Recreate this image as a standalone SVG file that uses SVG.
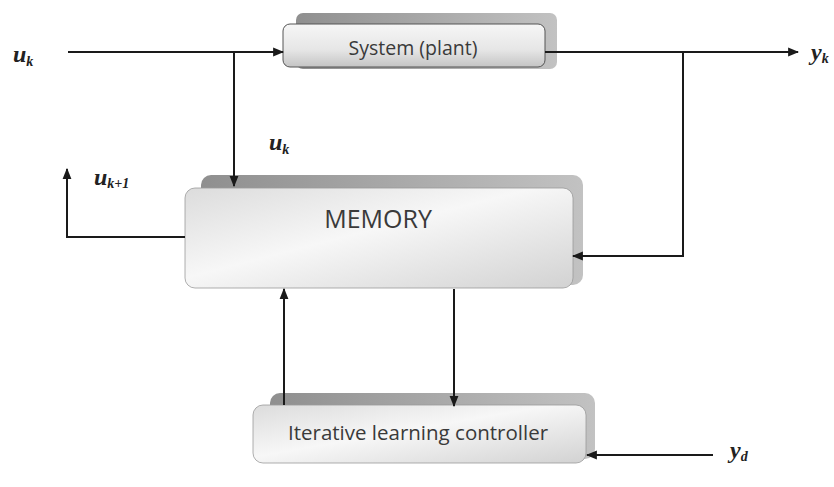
<svg xmlns="http://www.w3.org/2000/svg" width="834" height="487" viewBox="0 0 834 487">
  <defs>
    <linearGradient id="face" x1="0" y1="0" x2="1" y2="1">
      <stop offset="0" stop-color="#dcdcdc"/>
      <stop offset="0.45" stop-color="#f7f7f7"/>
      <stop offset="1" stop-color="#d2d2d2"/>
    </linearGradient>
    <linearGradient id="faceSys" x1="0" y1="0" x2="0" y2="1">
      <stop offset="0" stop-color="#f6f6f6"/>
      <stop offset="0.6" stop-color="#e6e6e6"/>
      <stop offset="1" stop-color="#c4c4c4"/>
    </linearGradient>
    <linearGradient id="back" x1="0" y1="0" x2="1" y2="0">
      <stop offset="0" stop-color="#8f8f8f"/>
      <stop offset="0.5" stop-color="#a8a8a8"/>
      <stop offset="1" stop-color="#c2c2c2"/>
    </linearGradient>
    <marker id="arrow" viewBox="0 0 10 10" refX="9" refY="5" markerWidth="11" markerHeight="11" markerUnits="userSpaceOnUse" orient="auto">
      <path d="M0,1 L10,5 L0,9 Z" fill="#1a1a1a"/>
    </marker>
  </defs>
  <style>
    .back { fill: url(#back); }
    .face { fill: url(#face); stroke: #9a9a9a; stroke-width: 0.8; }
    .box-label { font-family: "Open Sans", "Noto Sans", sans-serif; fill: #3a3a3a; text-anchor: middle; }
    .math { font-family: "Liberation Serif", "DejaVu Serif", serif; font-style: italic; font-weight: bold; fill: #222; font-size: 24px; }
    .sub { font-size: 14px; }
    .link { fill: none; stroke: #1a1a1a; stroke-width: 2; marker-end: url(#arrow); }
  </style>

  <rect width="834" height="487" fill="#ffffff"/>

  <!-- System block -->
  <g id="system">
    <rect class="back" x="296" y="13" width="261" height="56" rx="7"/>
    <rect x="283" y="24" width="262" height="43" rx="7" fill="url(#faceSys)" stroke="#555" stroke-width="1"/>
    <text class="box-label" x="413" y="55" font-size="19.5">System (plant)</text>
  </g>

  <!-- Memory block -->
  <g id="memory">
    <rect class="back" x="201" y="175" width="382" height="110" rx="10"/>
    <rect class="face" x="185" y="188" width="388" height="100" rx="10"/>
    <text class="box-label" x="378" y="228" font-size="25">MEMORY</text>
  </g>

  <!-- Learning controller block -->
  <g id="controller">
    <rect class="back" x="270" y="393" width="325" height="66" rx="10"/>
    <rect class="face" x="253" y="405" width="333" height="58" rx="10"/>
    <text class="box-label" x="418" y="440" font-size="20.5">Iterative learning controller</text>
  </g>

  <!-- Connectors -->
  <g id="connectors">
    <line class="link" x1="68" y1="52" x2="283" y2="52"/>
    <polyline class="link" points="234,52 234,186"/>
    <line class="link" x1="545" y1="52" x2="798" y2="52"/>
    <polyline class="link" points="683,52 683,256 573,256"/>
    <polyline class="link" points="185,237 67,237 67,169"/>
    <line class="link" x1="284" y1="405" x2="284" y2="289"/>
    <line class="link" x1="454" y1="289" x2="454" y2="406"/>
    <line class="link" x1="713" y1="455" x2="587" y2="455"/>
  </g>

  <!-- Signal labels -->
  <g id="labels">
    <text class="math" x="13" y="62">u<tspan class="sub" dy="4">k</tspan></text>
    <text class="math" x="269" y="150">u<tspan class="sub" dy="4">k</tspan></text>
    <text class="math" x="94" y="185">u<tspan class="sub" dy="3">k+1</tspan></text>
    <text class="math" x="811" y="60">y<tspan class="sub" dy="3">k</tspan></text>
    <text class="math" x="730" y="458">y<tspan class="sub" dy="3">d</tspan></text>
  </g>
</svg>
